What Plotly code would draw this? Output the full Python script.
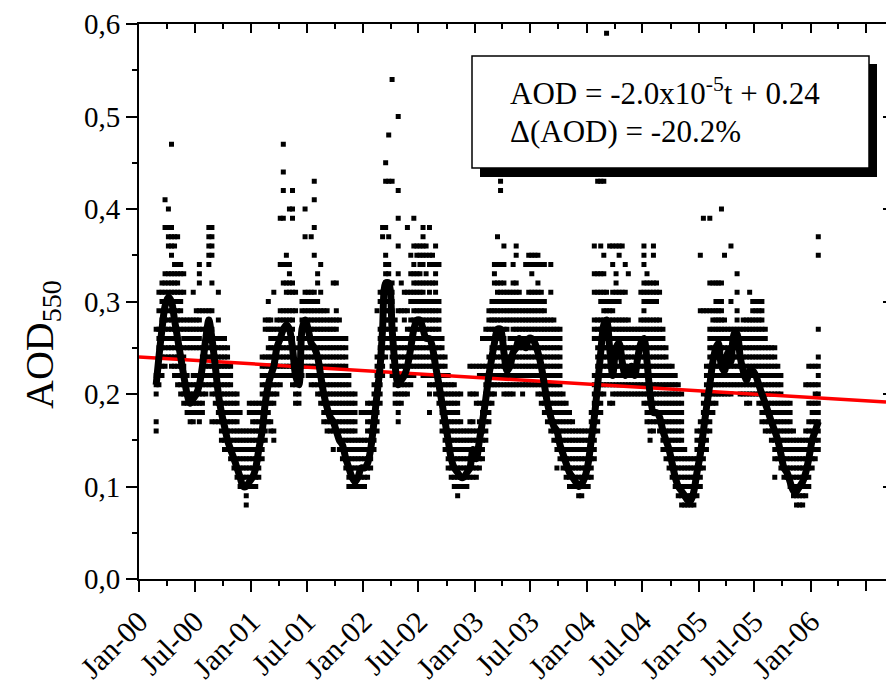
import datetime as dt
import plotly.graph_objects as go

# ---------------------------------------------------------------------------
# Daily AOD(550 nm) retrievals, summarised per ten-day period (dekad).
# Dekad 0 = 1-10 Jan 2000; the series starts at dekad 5 (21-29 Feb 2000).
# Values are AOD x 100 (retrievals are quantised to 0.01).
# ---------------------------------------------------------------------------
FIRST_DEKAD = 5

# 30-day running mean (AOD x 100), one value per dekad
aod_smooth = [
    # 2000 (Feb d3 - Dec d3)
    21, 24, 27, 29.5, 30.5, 30, 28, 26, 24, 22, 20, 19, 19.5, 20, 21, 23, 26, 28, 26, 23,
    20, 18, 16.5, 15, 14, 13, 12, 11, 10, 10, 10.5,
    # 2001
    11, 12, 14, 16, 19, 21, 22, 23, 25, 26, 27, 27.5, 27, 25, 22, 21, 27, 28, 27, 25.5,
    25, 24, 22, 20, 18.5, 17.5, 17, 16, 15, 14.5, 13, 12, 11, 10.5, 11, 12,
    # 2002
    12, 12.5, 14, 17, 20, 23, 27, 32, 32, 27, 23, 21, 21.5, 22, 23, 25, 27, 28, 28, 27,
    26, 26, 25, 23, 21, 19, 17, 15, 13, 12, 11.5, 11, 11, 11.5, 12, 14,
    # 2003
    13, 15, 17, 19.5, 22, 24, 25.5, 27, 27, 24.5, 22.5, 23, 24.5, 25, 26, 25.5, 25, 26, 26, 25.5,
    24.5, 23, 21, 19, 17.5, 16.5, 16, 14.5, 13.5, 12.5, 11.5, 11, 10.5, 10, 10.3, 11,
    # 2004
    12.5, 15, 17.5, 21, 24.5, 27.5, 28, 25, 22, 25, 25.5, 23.5, 22, 22.5, 23, 22, 24, 25.5, 26, 23.5,
    20, 18, 18, 17.5, 16, 15, 14, 12.5, 11, 10, 9.5, 9, 8.5, 8.5, 9.5, 11.5,
    # 2005 + Jan 2006
    13.5, 16, 18.5, 21, 23.5, 25, 25.5, 23, 22.5, 24.5, 23.5, 26.5, 26.5, 24, 22.5, 21.5, 22.5, 22.5, 22, 21,
    20, 19, 18, 17, 16, 15, 13.5, 12, 11.5, 10.5, 9.5, 9.5, 10, 10.5, 11.5, 13,
    15, 16, 17,
]

# retrieval levels (AOD x 100) present in each dekad; "a-b" = every level a..b
aod_levels = [
    # 2000
    "16-17 20-22 27", "21-27 29 31", "22-28 30-32", "23-33 38 41", "24-33 36-38 40",
    "23-33 35-38 47", "22-34 36-37", "21-34 37", "20-25 27-31 33-34", "19-28 31 33",
    "18-22 25-28", "17-21 25-28", "17-22 25-28 31", "18-22 25-29", "17-22 25-29 32-34",
    "18-25 27 29", "20-27 29", "21-29 34-38", "17 20-27 29 32 35-38", "17 19-26",
    "17-26 28 31", "15-26", "14-26", "14-25", "13-23", "12-20", "11-20", "10-16 18",
    "10-16", "8-16", "10-16 18-19",
    # 2001
    "10-19", "10-19", "11-19", "13-24", "15-24 27-28", "17-25 27-28 30", "16-17 19-28",
    "15-16 19-27 31", "20-28", "21-29 34 39", "22-29 32 34 39 42 44 47", "22-29 31-32 34-35",
    "22-29 31-34 40", "21-29 31-32 39-40 42", "19-23 25 29 31", "19-23 26", "22-30",
    "23-31 37 40", "22-31", "21-31 37", "21-31 35 38 41 43", "20-30 32-33", "19-29 31 34",
    "17-29", "16-29", "16-28", "14 16-28 32", "16-29 32", "14-26 28", "13-26", "12-26",
    "10-22", "10-20", "10-20", "10-15", "10-15 18",
    # 2002
    "10-15 18", "11-19", "12-19", "14-21", "16-24 29", "19-27 30-31", "22-31 37-38",
    "24-35 38 43 45", "25-34 37 43 48", "22-32 43 54", "19-28", "17-26 29 33 36 39 42 50",
    "19-26 29 32", "20-26 28-29 31", "20-27 29 31 38", "21-28 30-31 33 35", "22-34 36 39",
    "23-33 35-36", "23-36", "22-32 34-38", "22-30 32-33 35-36", "18 20-32 34-35 38",
    "21-30 32 34-35", "20-34 36", "19-30 34", "16-26", "14-24", "12-22", "11-21", "10-21",
    "9-20", "10-17 20", "10-16", "10-16", "11-17 20 23", "11-17 20 23",
    # 2003
    "11-16 19-20 23", "12-17 19 22-23", "13-19 22-23 26", "15-23 26-27", "17-24 26-29",
    "19-30", "20-30 32-34", "21-32 34 37", "21-32 34 42-43", "20-32 34 36", "20-25 27-31",
    "20-26 28-31", "20-32 34", "21-32 35-36", "21-31", "20-30", "21-30 34", "21-31 34-35",
    "21-31 33-35", "21-31 34-35", "20-32 34-35", "19-31 34", "18-30 34", "17-28",
    "16-28 31 34", "15-28", "12 14-27", "13-27", "12-20", "11-19", "10-18", "10-17",
    "10-16", "9-16", "9-16", "10-16",
    # 2004
    "10-16", "11-18", "13-22 26-28 31 33 36", "16-28 31 33 43", "18-28 30-31 33 36 43",
    "20-31 33 35 43", "21-31 59", "19 21-30 36", "19-31 34 36", "20-28 30-33 36",
    "20-28 30-31 35-36", "20-28 31 36", "20-28 31 34", "20-28 33", "20-27", "20-27",
    "20-27", "20-28 31", "19-32 34-36", "17-28 30-33", "15-28 30-32", "16-28 30-32 35-36",
    "17-28 30-32", "16-28 31", "14-27", "13-25", "12-23", "11-23", "10-22", "9-21", "8-20",
    "8-14", "8-13", "8-13", "8-13", "9-16",
    # 2005 + Jan 2006
    "10-17 29 35", "12-20 29 39", "14-23 29", "16-27 29 32 39", "18-29 32", "19-30 32",
    "20-30 32", "20-30 32 40", "20-28 35", "20-27", "20-27 30 36", "21-27", "21-29 31 33",
    "20-27", "20-28", "19-28", "19-28 31", "20-30", "20-30", "19-30", "17-30", "16-27",
    "16-25", "15-25", "11 13-25", "13-23", "12-22", "11-19", "11-19", "10-19", "9-16",
    "8-15", "8-15", "8-15", "9-16 21", "10-17 19 21 23", "12-19 21 23", "13-21 23",
    "14-24 27 35 37",
]

# linear fit, t in days since 1 Jan 2000
trend_slope = -2.0e-5
trend_intercept = 0.24
trend_change_pct = -20.2

x_start, x_end = "2000-01-01", "2006-09-04"
label_dates = [f"{y}-{m:02d}-01" for y in range(2000, 2006) for m in (1, 7)] + ["2006-01-01"]
label_text = [dt.date.fromisoformat(d).strftime("%b-%y") for d in label_dates]
unlabelled_major = ["2006-07-01"]


# ---------------------------------------------------------------------------
def dekad_date(n):
    """Mid-point date of dekad n (counted from 1 Jan 2000)."""
    year, rest = divmod(n, 36)
    month, part = divmod(rest, 3)
    return dt.date(2000 + year, month + 1, 6 + 10 * part)


def parse_levels(spec):
    out = []
    for tok in spec.split():
        if "-" in tok:
            a, b = tok.split("-")
            out.extend(range(int(a), int(b) + 1))
        else:
            out.append(int(tok))
    return out


dekads = [dekad_date(FIRST_DEKAD + i) for i in range(len(aod_smooth))]

pts_x, pts_y = [], []
for d, spec in zip(dekads, aod_levels):
    for level in parse_levels(spec):
        pts_x.append(d)
        pts_y.append(level / 100)

t0 = dt.date.fromisoformat(x_start)
t_end = dt.date.fromisoformat(x_end)
trend_x = [t0, t_end]
trend_y = [trend_intercept + trend_slope * (d - t0).days for d in trend_x]

# ---------------------------------------------------------------------------
W, H = 886, 688
L, R, T, B = 139, 886, 24, 579          # plot-area edges in pixels


def px(x):
    return (x - L) / (R - L)


def py(y):
    return (B - y) / (B - T)


SERIF = "Liberation Serif"
INK = "black"

fig = go.Figure()
fig.add_trace(go.Scatter(
    x=pts_x, y=pts_y, mode="markers",
    marker=dict(symbol="square", size=5, color=INK, line=dict(width=0)),
    hoverinfo="skip", showlegend=False))
fig.add_trace(go.Scatter(
    x=trend_x, y=trend_y, mode="lines",
    line=dict(color="#ff0000", width=3.5), showlegend=False))
fig.add_trace(go.Scatter(
    x=dekads, y=[v / 100 for v in aod_smooth], mode="lines",
    line=dict(color=INK, width=7, shape="spline", smoothing=0.8),
    showlegend=False))
# invisible carriers so the mirrored axes get drawn
for xa, ya in (("x2", "y2"), ("x3", "y")):
    fig.add_trace(go.Scatter(x=[x_start], y=[0], xaxis=xa, yaxis=ya,
                             mode="markers", marker=dict(opacity=0),
                             showlegend=False, hoverinfo="skip"))

tick_common = dict(tickwidth=2, tickcolor=INK, showgrid=False, zeroline=False)
fig.update_layout(
    width=W, height=H,
    margin=dict(l=L, r=W - R, t=T, b=H - B, pad=0),
    paper_bgcolor="white", plot_bgcolor="white",
    separators=",.",
    showlegend=False,
    xaxis=dict(
        type="date", range=[x_start, x_end],
        tickmode="array", tickvals=label_dates, ticktext=label_text,
        tickangle=-45, tickfont=dict(family=SERIF, size=30, color=INK),
        ticks="outside", ticklen=11,
        minor=dict(dtick="M3", tick0="2000-01-01", ticks="outside",
                   ticklen=5, tickwidth=2, tickcolor=INK),
        showline=True, linecolor=INK, linewidth=2, **tick_common,
    ),
    xaxis3=dict(
        type="date", overlaying="x", side="bottom", anchor="y", matches="x",
        tickmode="array", tickvals=unlabelled_major, showticklabels=False,
        ticks="outside", ticklen=11, showline=False, **tick_common,
    ),
    yaxis=dict(
        range=[0, 0.6], dtick=0.1, tick0=0, tickformat=".1f",
        tickfont=dict(family=SERIF, size=29, color=INK),
        ticks="outside", ticklen=11,
        minor=dict(dtick=0.05, ticks="outside", ticklen=5,
                   tickwidth=2, tickcolor=INK),
        showline=True, linecolor=INK, linewidth=2, **tick_common,
    ),
    xaxis2=dict(
        type="date", overlaying="x", side="top", anchor="y", matches="x",
        tickmode="array", tickvals=label_dates + unlabelled_major,
        showticklabels=False, ticks="inside", ticklen=9,
        minor=dict(dtick="M3", tick0="2000-01-01", ticks="inside",
                   ticklen=5, tickwidth=2, tickcolor=INK),
        showline=True, linecolor=INK, linewidth=2, **tick_common,
    ),
    yaxis2=dict(
        overlaying="y", side="right", anchor="x", matches="y",
        dtick=0.1, tick0=0, showticklabels=False,
        ticks="inside", ticklen=3, showline=False, **tick_common,
    ),
)

# equation box with drop shadow
fig.add_shape(type="rect", xref="paper", yref="paper",
              x0=px(480), x1=px(877), y0=py(177), y1=py(64),
              fillcolor=INK, line=dict(width=0), layer="above")
fig.add_shape(type="rect", xref="paper", yref="paper",
              x0=px(472), x1=px(869), y0=py(168), y1=py(56),
              fillcolor="white", line=dict(color=INK, width=1.5),
              layer="above")

mant = trend_slope / 1e-5
eq_text = f"AOD = {mant:.1f}x10<sup>-5</sup>t + {trend_intercept:.2f}"
chg_text = f"\u0394(AOD) = {trend_change_pct:.1f}%"
boxfont = dict(family=SERIF, size=31, color=INK)
fig.add_annotation(x=px(508), y=py(92), xref="paper", yref="paper",
                   text=eq_text, showarrow=False, xanchor="left",
                   yanchor="middle", font=boxfont)
fig.add_annotation(x=px(508), y=py(131), xref="paper", yref="paper",
                   text=chg_text, showarrow=False, xanchor="left",
                   yanchor="middle", font=boxfont)

# y-axis title
fig.add_annotation(x=px(42), y=py(345), xref="paper", yref="paper",
                   text="AOD<sub>550</sub>", textangle=-90, showarrow=False,
                   xanchor="center", yanchor="middle",
                   font=dict(family=SERIF, size=40, color=INK))

fig.write_html("out.html")
